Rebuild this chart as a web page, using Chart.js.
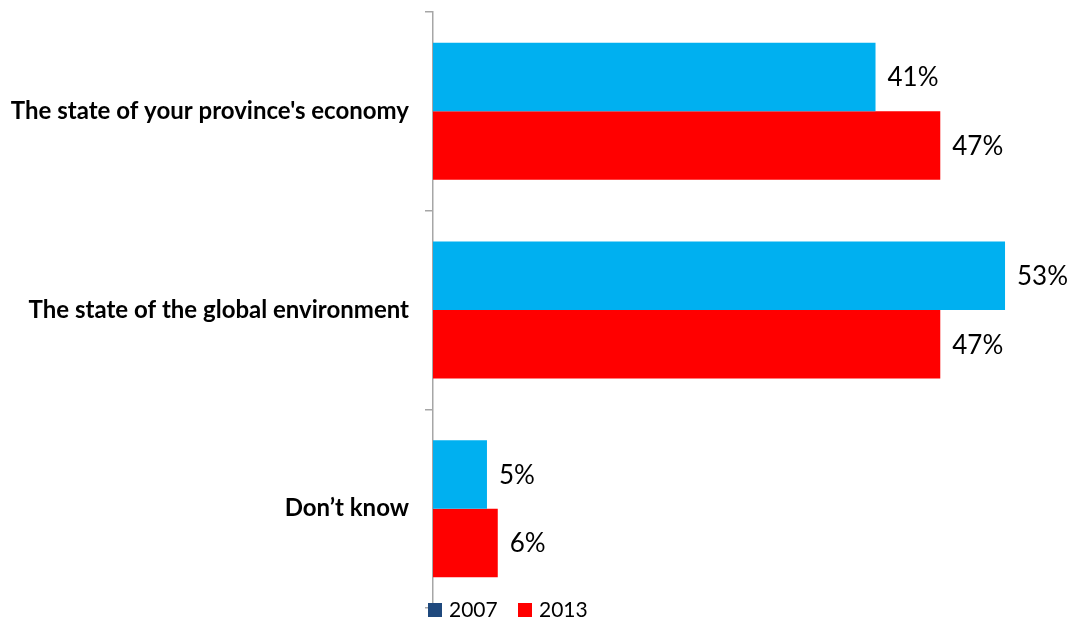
<!DOCTYPE html>
<html>
<head>
<meta charset="utf-8">
<script src="https://cdn.jsdelivr.net/npm/chart.js@4"></script>
<style>
  html, body { margin: 0; padding: 0; background: #fff; }
  #wrap { width: 1073px; height: 619px; position: relative; }
</style>
</head>
<body>
<div id="wrap"><canvas id="barChart"></canvas></div>
<script>
const categories = ["The state of your province's economy", 'The state of the global environment', 'Don\u2019t know'];
const values2007 = [41, 53, 5];
const values2013 = [47, 47, 6];
const seriesNames = ['2007', '2013'];

// value labels drawn next to each bar
const barLabels = {
  id: 'barLabels',
  afterDatasetsDraw(chart) {
    const ctx = chart.ctx;
    ctx.save();
    ctx.font = '26px Lato, "Open Sans", sans-serif';
    ctx.fillStyle = '#000';
    ctx.textAlign = 'left';
    ctx.textBaseline = 'middle';
    chart.data.datasets.forEach((ds, i) => {
      chart.getDatasetMeta(i).data.forEach((bar, j) => {
        ctx.fillText(ds.data[j] + '%', bar.x + 12, bar.y + 1);
      });
    });
    ctx.restore();
  }
};

// legend sits on the bottom of the axis, like the original
const bottomLegend = {
  id: 'bottomLegend',
  afterDraw(chart) {
    const ctx = chart.ctx;
    const swatch = ['#1F497D', '#FF0000'];
    const xs = [428, 518];
    ctx.save();
    ctx.font = '21px Lato, "Open Sans", sans-serif';
    ctx.textBaseline = 'middle';
    seriesNames.forEach((name, i) => {
      ctx.fillStyle = swatch[i];
      ctx.fillRect(xs[i], 603, 14, 14);
      ctx.fillStyle = '#000';
      ctx.fillText(name, xs[i] + 21, 610);
    });
    ctx.restore();
  }
};

const ctxBar = document.getElementById('barChart').getContext('2d');
const barChart = new Chart(ctxBar, {
  type: 'bar',
  data: {
    labels: categories,
    datasets: [
      { label: seriesNames[0], data: values2007, backgroundColor: '#00B0F0' },
      { label: seriesNames[1], data: values2013, backgroundColor: '#FF0000' }
    ]
  },
  options: {
    indexAxis: 'y',
    responsive: true,
    maintainAspectRatio: false,
    animation: false,
    datasets: { bar: { barPercentage: 1, categoryPercentage: 0.69 } },
    layout: { autoPadding: false, padding: { top: 12, bottom: 11, left: 0, right: 14 } },
    scales: {
      x: { display: false, min: 0, max: 58 },
      y: {
        afterFit(scale) {
          scale.width = 433;
          scale.paddingTop = 0;
          scale.paddingBottom = 0;
        },
        border: { color: '#A6A6A6', width: 1.5 },
        grid: { offset: true, drawOnChartArea: false, tickLength: 8, color: '#A6A6A6', lineWidth: 1.5 },
        ticks: {
          padding: 16,
          color: '#000',
          font: { family: 'Lato, "Open Sans", sans-serif', size: 24, weight: 'bold' }
        }
      }
    },
    plugins: {
      legend: { display: false },
      tooltip: { enabled: false }
    }
  },
  plugins: [barLabels, bottomLegend]
});
</script>
</body>
</html>
